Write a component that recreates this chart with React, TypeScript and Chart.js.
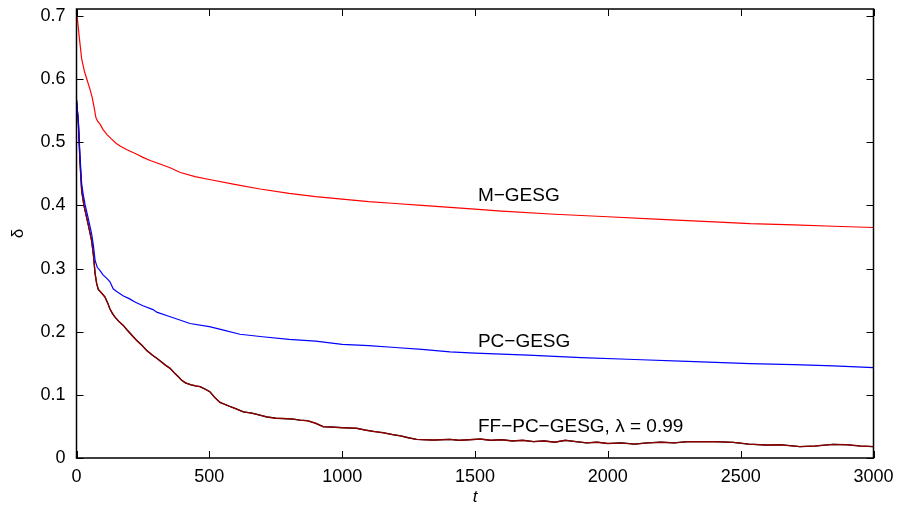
import React, { useEffect, useRef } from "react";
import { Chart, registerables } from "chart.js";

Chart.register(...registerables);

// ---- data ----
const tRed = [0, 10, 19.5, 30, 41, 50, 59, 66, 73, 80, 88, 100, 115, 132, 150, 164, 190, 227, 250, 277, 314, 350, 391, 446, 500, 600, 691, 800, 900, 1000, 1100, 1200, 1300, 1406, 1500, 1600, 1800, 2000, 2200, 2400, 2535, 2700, 2850, 3000];
const mGesg = [0.709, 0.668, 0.632, 0.612, 0.597, 0.585, 0.571, 0.556, 0.539, 0.533, 0.529, 0.52, 0.512, 0.505, 0.498, 0.494, 0.488, 0.481, 0.476, 0.471, 0.4655, 0.46, 0.452, 0.4455, 0.441, 0.433, 0.426, 0.419, 0.414, 0.41, 0.406, 0.403, 0.4, 0.397, 0.394, 0.391, 0.386, 0.382, 0.378, 0.374, 0.371, 0.369, 0.367, 0.365];

const tBlue = [0, 7, 13, 19.5, 25, 32, 45, 57, 64, 70, 78, 88, 100, 115, 126, 138, 150, 175, 200, 220, 250, 288, 302, 350, 400, 427, 500, 550, 615, 700, 800, 900, 1000, 1100, 1200, 1300, 1406, 1500, 1700, 1900, 2100, 2300, 2535, 2700, 2850, 3000];
const pcGesg = [0.567, 0.534, 0.48, 0.434, 0.418, 0.402, 0.378, 0.355, 0.335, 0.313, 0.302, 0.297, 0.29, 0.284, 0.279, 0.268, 0.264, 0.257, 0.252, 0.247, 0.241, 0.235, 0.231, 0.224, 0.217, 0.213, 0.208, 0.203, 0.196, 0.192, 0.188, 0.185, 0.18, 0.178, 0.175, 0.172, 0.168, 0.166, 0.163, 0.159, 0.156, 0.153, 0.1496, 0.148, 0.146, 0.143];

const tBlack = [0, 7, 13, 19.5, 28, 38, 48, 57, 64, 70, 76, 82, 95, 107, 117, 126, 135, 145, 160, 176, 190, 205, 227, 245, 265, 285, 302, 320, 335, 352, 370, 385, 396, 410, 430, 450, 465, 480, 502, 520, 540, 552, 575, 600, 628, 660, 690, 716, 750, 780, 816, 841, 870, 900, 929, 960, 1000, 1030, 1055, 1090, 1120, 1155, 1190, 1220, 1250, 1280, 1310, 1343, 1375, 1406, 1440, 1480, 1520, 1560, 1600, 1640, 1680, 1720, 1760, 1800, 1840, 1880, 1920, 1960, 2000, 2050, 2100, 2150, 2200, 2250, 2300, 2347, 2400, 2472, 2530, 2598, 2650, 2723, 2780, 2848, 2900, 2950, 3000];
const ffPcGesg = [0.567, 0.53, 0.47, 0.423, 0.4, 0.381, 0.362, 0.344, 0.32, 0.292, 0.276, 0.267, 0.261, 0.255, 0.246, 0.236, 0.229, 0.223, 0.216, 0.21, 0.203, 0.196, 0.186, 0.179, 0.17, 0.163, 0.158, 0.152, 0.147, 0.142, 0.134, 0.128, 0.123, 0.119, 0.116, 0.114, 0.113, 0.11, 0.105, 0.096, 0.088, 0.086, 0.082, 0.078, 0.073, 0.071, 0.068, 0.065, 0.063, 0.0625, 0.0615, 0.06, 0.059, 0.055, 0.0495, 0.049, 0.048, 0.0475, 0.047, 0.044, 0.042, 0.04, 0.037, 0.035, 0.032, 0.0295, 0.029, 0.0284, 0.029, 0.0295, 0.028, 0.029, 0.03, 0.028, 0.029, 0.027, 0.028, 0.026, 0.027, 0.025, 0.028, 0.026, 0.024, 0.025, 0.023, 0.024, 0.022, 0.024, 0.025, 0.024, 0.026, 0.0258, 0.026, 0.0248, 0.022, 0.0205, 0.021, 0.018, 0.019, 0.0216, 0.021, 0.019, 0.018];

const xTickValues = [0, 500, 1000, 1500, 2000, 2500, 3000];
const yTickValues = [0, 0.1, 0.2, 0.3, 0.4, 0.5, 0.6, 0.7];
const yTickLabels = ["0", "0.1", "0.2", "0.3", "0.4", "0.5", "0.6", "0.7"];

const seriesLabels = ["M\u2212GESG", "PC\u2212GESG", "FF\u2212PC\u2212GESG, \u03bb = 0.99"];
const labelT = [1511, 1511, 1511];
const labelDelta = [0.4155, 0.1837, 0.0494];

const FONT = "'Liberation Sans', Arial, Helvetica, sans-serif";

const toPts = (xs: number[], ys: number[]) => xs.map((x, i) => ({ x, y: ys[i] }));

const boxPlugin = {
  id: "matlabBox",
  afterDatasetsDraw(chart: any) {
    const { ctx, chartArea: a, scales } = chart;
    const xs = scales.x;
    const ys = scales.y;
    ctx.save();
    ctx.fillStyle = "#000";
    ctx.font = `19px ${FONT}`;
    ctx.textAlign = "left";
    ctx.textBaseline = "middle";
    seriesLabels.forEach((s, i) => {
      ctx.fillText(s, xs.getPixelForValue(labelT[i]), ys.getPixelForValue(labelDelta[i]));
    });
    ctx.strokeStyle = "#000";
    ctx.lineWidth = 1.5;
    ctx.strokeRect(a.left, a.top, a.right - a.left, a.bottom - a.top);
    const tl = 7;
    ctx.lineWidth = 1;
    ctx.beginPath();
    xTickValues.forEach((v) => {
      const px = Math.round(xs.getPixelForValue(v)) + 0.5;
      ctx.moveTo(px, a.bottom);
      ctx.lineTo(px, a.bottom - tl);
      ctx.moveTo(px, a.top);
      ctx.lineTo(px, a.top + tl);
    });
    yTickValues.forEach((v) => {
      const py = Math.round(ys.getPixelForValue(v)) + 0.5;
      ctx.moveTo(a.left, py);
      ctx.lineTo(a.left + tl, py);
      ctx.moveTo(a.right, py);
      ctx.lineTo(a.right - tl, py);
    });
    ctx.stroke();
    ctx.restore();
  },
};

export default function App() {
  const ref = useRef<HTMLCanvasElement | null>(null);
  useEffect(() => {
    if (!ref.current) return;
    const chart = new Chart(ref.current, {
      type: "line",
      data: {
        datasets: [
          { data: toPts(tRed, mGesg), borderColor: "#ff0000", borderWidth: 1.2, pointRadius: 0, tension: 0 },
          { data: toPts(tBlue, pcGesg), borderColor: "#0000ff", borderWidth: 1.2, pointRadius: 0, tension: 0 },
          { data: toPts(tBlack, ffPcGesg), borderColor: "#8a0000", borderWidth: 1.4, pointRadius: 0, tension: 0 },
          { data: toPts(tBlack, ffPcGesg), borderColor: "#000000", borderWidth: 1.2, pointRadius: 0, tension: 0 },
        ],
      },
      options: {
        responsive: false,
        animation: false,
        events: [],
        layout: { padding: { left: 0, right: 26.5, top: 9, bottom: 0 } },
        plugins: { legend: { display: false }, tooltip: { enabled: false } },
        scales: {
          x: {
            type: "linear",
            min: 0,
            max: 3000,
            grid: { display: false, drawTicks: false },
            border: { display: false },
            afterBuildTicks: (s: any) => {
              s.ticks = xTickValues.map((v) => ({ value: v }));
            },
            afterFit: (s: any) => {
              s.height = 56;
              s.paddingLeft = 0;
              s.paddingRight = 0;
            },
            ticks: {
              color: "#000",
              font: { family: FONT, size: 18 },
              padding: 8,
              maxRotation: 0,
              autoSkip: false,
              callback: (v: any) => String(v),
            },
            title: {
              display: true,
              text: "t",
              color: "#000",
              font: { family: FONT, size: 17, style: "italic" },
              padding: { top: 0, bottom: 7 },
            },
          },
          y: {
            type: "linear",
            min: 0,
            max: 0.711,
            grid: { display: false, drawTicks: false },
            border: { display: false },
            afterBuildTicks: (s: any) => {
              s.ticks = yTickValues.map((v) => ({ value: v }));
            },
            afterFit: (s: any) => {
              s.width = 76.5;
              s.paddingTop = 0;
              s.paddingBottom = 0;
            },
            ticks: {
              color: "#000",
              font: { family: FONT, size: 18 },
              padding: 11,
              autoSkip: false,
              callback: (v: any) => {
                const i = yTickValues.indexOf(v);
                return i >= 0 ? yTickLabels[i] : "";
              },
            },
            title: {
              display: true,
              text: "\u03b4",
              color: "#000",
              font: { family: FONT, size: 17 },
              padding: { top: 8, bottom: 0 },
            },
          },
        },
      },
      plugins: [boxPlugin],
    });
    return () => chart.destroy();
  }, []);
  return (
    <div style={{ position: "fixed", left: 0, top: 0, width: 900, height: 514, background: "#fff" }}>
      <canvas ref={ref} width={900} height={514} />
    </div>
  );
}
